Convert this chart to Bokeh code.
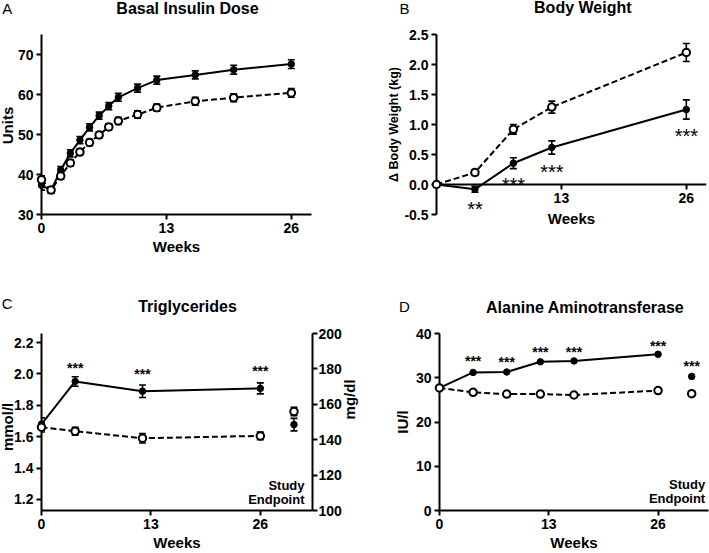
import math
from bokeh.plotting import figure
from bokeh.models import (Range1d, LinearAxis, FixedTicker, NumeralTickFormatter,
                          Whisker, TeeHead, ColumnDataSource)
from bokeh.layouts import row, column
from bokeh.core.properties import value
from bokeh.embed import file_html
from bokeh.resources import INLINE

FONT = "Liberation Sans"

# ---------------- data ----------------
# A: Basal insulin dose (units)
a_weeks = [0, 1, 2, 3, 4, 5, 6, 7, 8, 10, 12, 16, 20, 26]
a_filled = [37.3, 36.1, 41.1, 45.3, 48.6, 51.8, 54.7, 57.1, 59.3, 61.6, 63.6, 64.9, 66.2, 67.6]
a_filled_se = [1.2, 0.8, 0.9, 0.9, 0.9, 0.9, 0.9, 0.9, 1.0, 1.0, 1.0, 1.0, 1.1, 1.1]
a_open = [38.7, 36.1, 39.6, 42.9, 45.6, 48.0, 49.9, 51.9, 53.4, 55.0, 56.7, 58.3, 59.2, 60.4]
a_open_se = [1.0, 0.8, 0.8, 0.8, 0.8, 0.8, 0.8, 0.8, 0.9, 0.9, 0.9, 1.0, 1.0, 1.1]
a_xticks = [0, 13, 26]
a_yticks = [30, 40, 50, 60, 70]

# B: change in body weight (kg)
b_weeks = [0, 4, 8, 12, 26]
b_filled = [0.0, -0.08, 0.355, 0.617, 1.25]
b_filled_se = [0.0, 0.05, 0.09, 0.11, 0.16]
b_open = [0.0, 0.2, 0.92, 1.29, 2.2]
b_open_se = [0.0, 0.05, 0.08, 0.10, 0.15]
b_star_x = [4, 8, 12, 26]
b_star_y = [-0.34, 0.06, 0.28, 0.88]
b_star_text = ["**", "***", "***", "***"]
b_xticks = [13, 26]
b_yticks = [-0.5, 0.0, 0.5, 1.0, 1.5, 2.0, 2.5]

# C: triglycerides (mmol/l)
c_weeks = [0, 4, 12, 26]
c_filled = [1.68, 1.952, 1.89, 1.908]
c_filled_se = [0.04, 0.03, 0.04, 0.035]
c_open = [1.66, 1.635, 1.59, 1.605]
c_open_se = [0.03, 0.025, 0.03, 0.025]
c_end_x = [30]
c_end_filled = [1.677]
c_end_filled_se = [0.04]
c_end_open = [1.76]
c_end_open_se = [0.027]
c_star_x = [4, 12, 26]
c_star_y = [2.06, 2.02, 2.04]
c_star_text = ["***", "***", "***"]
c_xticks = [0, 13, 26]
c_yticks = [1.2, 1.4, 1.6, 1.8, 2.0, 2.2]
c_mg_ticks = [100, 120, 140, 160, 180, 200]
MG_PER_MMOL = 88.57

# D: alanine aminotransferase (IU/l)
d_weeks = [0, 4, 8, 12, 16, 26]
d_filled = [27.7, 31.2, 31.3, 33.6, 33.8, 35.3]
d_open = [27.7, 26.7, 26.3, 26.3, 26.1, 27.1]
d_end_x = [30]
d_end_filled = [30.3]
d_end_open = [26.4]
d_star_x = [4, 8, 12, 16, 26, 30]
d_star_y = [34.4, 34.2, 36.6, 36.6, 37.9, 33.3]
d_star_text = ["***"] * 6
d_xticks = [0, 13, 26]
d_yticks = [0, 10, 20, 30, 40]

# ---------------- geometry (page pixels) ----------------
GEO = {
    "A": dict(ox=0, oy=0, w=354, h=276, fl=41, ft=34, fw=270, fh=180, xr=(0, 28.1), yr=(30, 75)),
    "B": dict(ox=354, oy=0, w=355, h=276, fl=82, ft=34, fw=270, fh=180, xr=(0, 28.1), yr=(-0.5, 2.5)),
    "C": dict(ox=0, oy=276, w=364, h=277, fl=41, ft=57, fw=271, fh=180, xr=(0, 32.2),
              yr=(100 / MG_PER_MMOL, 200 / MG_PER_MMOL)),
    "D": dict(ox=364, oy=276, w=345, h=277, fl=75, ft=57, fw=269, fh=180, xr=(0, 32.0), yr=(0, 40)),
}


def at(g, px, py):
    x0, x1 = g["xr"]
    y0, y1 = g["yr"]
    fx = g["ox"] + g["fl"]
    fy = g["oy"] + g["ft"]
    return (x0 + (px - fx) / g["fw"] * (x1 - x0), y1 - (py - fy) / g["fh"] * (y1 - y0))


def make_panel(g):
    p = figure(width=g["w"], height=g["h"], x_range=Range1d(*g["xr"]), y_range=Range1d(*g["yr"]),
               output_backend="svg", toolbar_location=None,
               min_border_left=g["fl"], min_border_top=g["ft"],
               min_border_right=g["w"] - g["fl"] - g["fw"],
               min_border_bottom=g["h"] - g["ft"] - g["fh"])
    p.outline_line_color = None
    p.xgrid.visible = False
    p.ygrid.visible = False
    p.background_fill_color = "white"
    p.border_fill_color = "white"
    return p


def style_axis(ax, ticks):
    ax.ticker = FixedTicker(ticks=ticks, minor_ticks=[])
    ax.axis_line_width = 2
    ax.axis_line_color = "black"
    ax.major_tick_line_width = 2
    ax.major_tick_line_color = "black"
    ax.major_tick_out = 5
    ax.major_tick_in = 0
    ax.minor_tick_line_color = None
    ax.major_label_text_font = FONT
    ax.major_label_text_font_style = "bold"
    ax.major_label_text_font_size = "14px"
    ax.major_label_text_color = "black"
    ax.major_label_standoff = 3
    ax.axis_label_text_font = FONT
    ax.axis_label_text_font_style = "bold"
    ax.axis_label_text_font_size = "15px"
    ax.axis_label_text_color = "black"
    ax.axis_label_standoff = 2


def add_series(p, x, y, err, filled, draw_line=True):
    if err is None:
        err = [0] * len(y)
    src = ColumnDataSource(dict(x=x, y=y,
                                lo=[v - e for v, e in zip(y, err)],
                                hi=[v + e for v, e in zip(y, err)]))
    if any(e > 0 for e in err):
        p.add_layout(Whisker(source=src, base="x", lower="lo", upper="hi", dimension="height",
                             line_color="black", line_width=1.6, level="annotation",
                             upper_head=TeeHead(size=7, line_width=1.6, line_color="black"),
                             lower_head=TeeHead(size=7, line_width=1.6, line_color="black")))
    if draw_line:
        p.line("x", "y", source=src, line_color="black", line_width=2,
               line_dash="solid" if filled else "6 3")
    return src


def add_markers(p, src, filled):
    if filled:
        p.scatter("x", "y", source=src, marker="circle", size=6.5, level="overlay",
                  fill_color="black", line_color="black", line_width=1)
    else:
        p.scatter("x", "y", source=src, marker="circle", size=7.5, level="overlay",
                  fill_color="white", line_color="black", line_width=2)


def add_text(p, g, px, py, text, size="16px", style="bold", align="center", angle=0.0):
    x, y = at(g, px, py)
    p.text(x=[x], y=[y], text=[text], text_font=value(FONT), text_font_size=size,
           text_font_style=style, text_align=align, text_baseline="middle",
           text_color="black", angle=angle, level="overlay")


def add_stars(p, xs, ys, texts, size, style, yoff):
    src = ColumnDataSource(dict(x=xs, y=ys, t=texts))
    p.text("x", "y", text="t", source=src, text_font=value(FONT), text_font_size=size,
           text_font_style=style, text_align="center", text_baseline="middle",
           text_color="black", y_offset=yoff, level="overlay")


# ---------------- Panel A ----------------
gA = GEO["A"]
pA = make_panel(gA)
style_axis(pA.xaxis[0], a_xticks)
style_axis(pA.yaxis[0], a_yticks)
pA.xaxis.axis_label = "Weeks"
sa_o = add_series(pA, a_weeks, a_open, a_open_se, False)
sa_f = add_series(pA, a_weeks, a_filled, a_filled_se, True)
add_markers(pA, sa_f, True)
add_markers(pA, sa_o, False)
add_text(pA, gA, 6.7, 8, "A", size="15px", style="normal")
add_text(pA, gA, 187, 7.5, "Basal Insulin Dose")
add_text(pA, gA, 7, 125, "Units", size="15px", angle=math.pi / 2)

# ---------------- Panel B ----------------
gB = GEO["B"]
pB = make_panel(gB)
style_axis(pB.xaxis[0], b_xticks)
style_axis(pB.yaxis[0], b_yticks)
pB.xaxis.fixed_location = 0
pB.yaxis.formatter = NumeralTickFormatter(format="0.0")
pB.yaxis.axis_label = "Δ Body Weight (kg)"
pB.yaxis.axis_label_text_font_size = "12.5px"
pB.yaxis.axis_label_standoff = 0
sb_o = add_series(pB, b_weeks, b_open, b_open_se, False)
sb_f = add_series(pB, b_weeks, b_filled, b_filled_se, True)
add_markers(pB, sb_f, True)
add_markers(pB, sb_o, False)
add_stars(pB, b_star_x, b_star_y, b_star_text, "20px", "normal", 4)
add_text(pB, gB, 404, 7.5, "B", size="15px", style="normal")
add_text(pB, gB, 582.3, 7, "Body Weight")
add_text(pB, gB, 571, 218, "Weeks", size="15px")

# ---------------- Panel C ----------------
gC = GEO["C"]
pC = make_panel(gC)
style_axis(pC.xaxis[0], c_xticks)
style_axis(pC.yaxis[0], c_yticks)
pC.xaxis.axis_label = "Weeks"
pC.yaxis.formatter = NumeralTickFormatter(format="0.0")
pC.extra_y_ranges = {"mg": Range1d(100, 200)}
axC = LinearAxis(y_range_name="mg")
style_axis(axC, c_mg_ticks)
axC.major_label_standoff = 1
pC.add_layout(axC, "right")
sc_o = add_series(pC, c_weeks, c_open, c_open_se, False)
sc_f = add_series(pC, c_weeks, c_filled, c_filled_se, True)
sce_o = add_series(pC, c_end_x, c_end_open, c_end_open_se, False, draw_line=False)
sce_f = add_series(pC, c_end_x, c_end_filled, c_end_filled_se, True, draw_line=False)
add_markers(pC, sc_f, True)
add_markers(pC, sc_o, False)
add_markers(pC, sce_f, True)
add_markers(pC, sce_o, False)
add_stars(pC, c_star_x, c_star_y, c_star_text, "14px", "bold", 3)
add_text(pC, gC, 6.7, 302.7, "C", size="15px", style="normal")
add_text(pC, gC, 187, 306, "Triglycerides")
add_text(pC, gC, 7, 428, "mmol/l", size="15px", angle=math.pi / 2)
add_text(pC, gC, 349, 400, "mg/dl", size="15px", angle=math.pi / 2)
add_text(pC, gC, 304, 487.7, "Study", size="13px", align="right")
add_text(pC, gC, 304, 502, "Endpoint", size="13px", align="right")

# ---------------- Panel D ----------------
gD = GEO["D"]
pD = make_panel(gD)
style_axis(pD.xaxis[0], d_xticks)
style_axis(pD.yaxis[0], d_yticks)
pD.xaxis.axis_label = "Weeks"
pD.yaxis.axis_label = "IU/l"
sd_o = add_series(pD, d_weeks, d_open, None, False)
sd_f = add_series(pD, d_weeks, d_filled, None, True)
sde_o = add_series(pD, d_end_x, d_end_open, None, False, draw_line=False)
sde_f = add_series(pD, d_end_x, d_end_filled, None, True, draw_line=False)
add_markers(pD, sd_f, True)
add_markers(pD, sd_o, False)
add_markers(pD, sde_f, True)
add_markers(pD, sde_o, False)
add_stars(pD, d_star_x, d_star_y, d_star_text, "14px", "bold", 3)
add_text(pD, gD, 404, 306, "D", size="15px", style="normal")
add_text(pD, gD, 584.7, 307, "Alanine Aminotransferase")
add_text(pD, gD, 704.7, 487, "Study", size="13px", align="right")
add_text(pD, gD, 704.7, 501, "Endpoint", size="13px", align="right")

layout = column(row(pA, pB), row(pC, pD),
                styles={"position": "absolute", "left": "0px", "top": "0px"})

open("out.html", "w").write(file_html(layout, INLINE))
